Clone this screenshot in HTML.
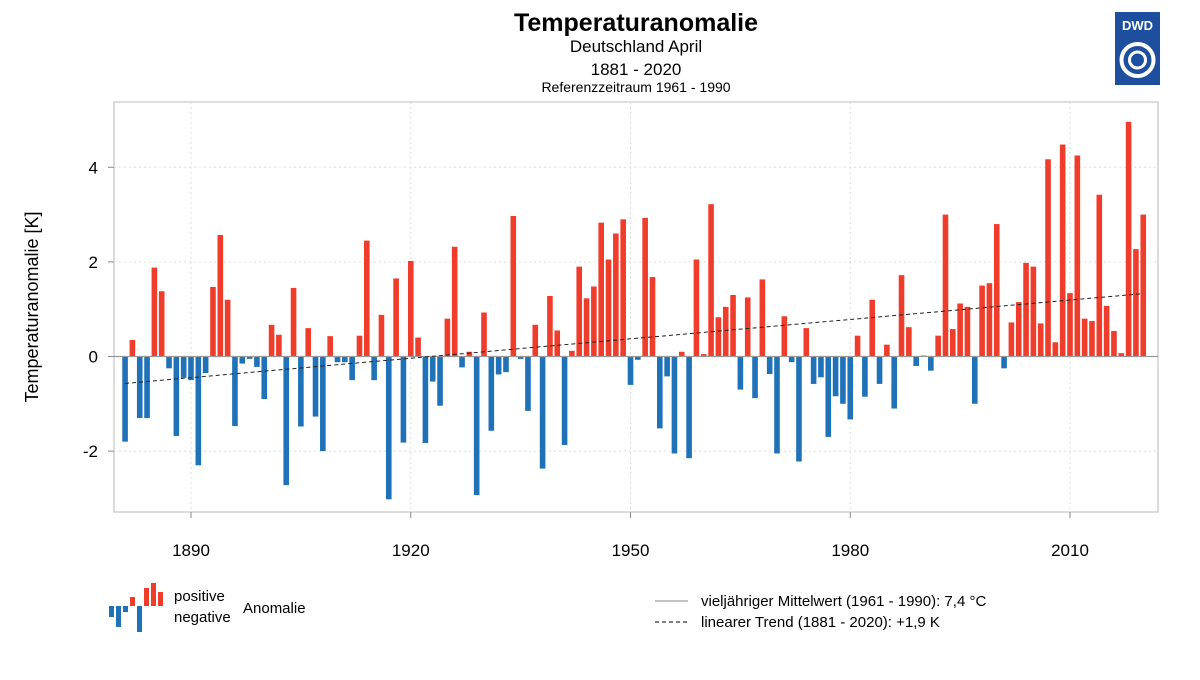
<!DOCTYPE html>
<html><head><meta charset="utf-8"><style>
body{margin:0;background:#fff;font-family:"Liberation Sans",sans-serif}
svg text{font-family:"Liberation Sans",sans-serif}
</style></head><body>
<svg id="c" width="1200" height="675" viewBox="0 0 1200 675">
<text x="636" y="31" text-anchor="middle" font-size="25" font-weight="bold">Temperaturanomalie</text>
<text x="636" y="52" text-anchor="middle" font-size="17">Deutschland April</text>
<text x="636" y="75" text-anchor="middle" font-size="17">1881 - 2020</text>
<text x="636" y="92" text-anchor="middle" font-size="14">Referenzzeitraum 1961 - 1990</text>
<g>
<rect x="1115" y="12" width="45" height="73" fill="#1d4f9e"/>
<text x="1137.5" y="30" text-anchor="middle" font-size="13" font-weight="bold" fill="#fff">DWD</text>
<circle cx="1137.5" cy="60" r="16" fill="none" stroke="#fff" stroke-width="4"/>
<circle cx="1137.5" cy="60" r="8" fill="none" stroke="#fff" stroke-width="3"/>
</g>
<rect x="114" y="102" width="1044" height="410" fill="none" stroke="#bbb"/>
<g id="grid"></g><g id="bars"></g><g id="axes"></g>
<text transform="translate(38,307) rotate(-90)" text-anchor="middle" font-size="18">Temperaturanomalie [K]</text>
<g>
<rect x="109" y="606" width="5" height="11" fill="#1f72b8"/><rect x="116" y="606" width="5" height="21" fill="#1f72b8"/><rect x="123" y="606" width="5" height="6" fill="#1f72b8"/><rect x="130" y="597" width="5" height="9" fill="#f03c2b"/><rect x="137" y="606" width="5" height="26" fill="#1f72b8"/><rect x="144" y="588" width="5" height="18" fill="#f03c2b"/><rect x="151" y="583" width="5" height="23" fill="#f03c2b"/><rect x="158" y="592" width="5" height="14" fill="#f03c2b"/>
<text x="174" y="601" font-size="15">positive</text><text x="174" y="622" font-size="15">negative</text><text x="243" y="613" font-size="15">Anomalie</text>
</g>
<g>
<line x1="655" y1="601" x2="688" y2="601" stroke="#888" stroke-width="1"/>
<text x="701" y="606" font-size="15">vieljähriger Mittelwert (1961 - 1990): 7,4 °C</text>
<line x1="655" y1="622" x2="688" y2="622" stroke="#000" stroke-dasharray="4,3"/>
<text x="701" y="627" font-size="15">linearer Trend (1881 - 2020): +1,9 K</text>
</g>
</svg>
<script>
const startYear=1881;
const values=[-1.8,0.35,-1.3,-1.3,1.88,1.38,-0.25,-1.68,-0.45,-0.5,-2.3,-0.35,1.47,2.57,1.2,-1.47,-0.15,-0.05,-0.22,-0.9,
0.67,0.46,-2.72,1.45,-1.48,0.6,-1.27,-2.0,0.43,-0.12,-0.12,-0.5,0.44,2.45,-0.5,0.88,-3.02,1.65,-1.82,2.02,
0.4,-1.83,-0.53,-1.04,0.8,2.32,-0.23,0.1,-2.93,0.93,-1.57,-0.38,-0.33,2.97,-0.05,-1.15,0.67,-2.37,1.28,0.55,
-1.87,0.12,1.9,1.23,1.48,2.83,2.05,2.6,2.9,-0.6,-0.07,2.93,1.68,-1.52,-0.42,-2.05,0.1,-2.15,2.05,0.05,
3.22,0.83,1.05,1.3,-0.7,1.25,-0.88,1.63,-0.37,-2.05,0.85,-0.12,-2.22,0.6,-0.58,-0.44,-1.7,-0.84,-1.0,-1.33,
0.44,-0.85,1.2,-0.58,0.25,-1.1,1.72,0.62,-0.2,0.02,-0.3,0.44,3.0,0.58,1.12,1.05,-1.0,1.5,1.55,2.8,
-0.25,0.72,1.15,1.98,1.9,0.7,4.17,0.3,4.48,1.34,4.25,0.8,0.75,3.42,1.07,0.54,0.07,4.96,2.27,3.0];
const xTicks=[1890,1920,1950,1980,2010];
const yTicks=[-2,0,2,4];
const trend=[-0.57,1.33];
const NS='http://www.w3.org/2000/svg';
const X=y=>191+(y-1890)*(879/120);
const Y=v=>356.5-v*47.3;
function mk(t,a,p){const e=document.createElementNS(NS,t);for(const k in a)e.setAttribute(k,a[k]);document.getElementById(p).appendChild(e);return e;}
xTicks.forEach(t=>{
 const g=mk('line',{x1:X(t),x2:X(t),y1:102,y2:512,stroke:'#ddd','stroke-dasharray':'2,3'},'grid');
 
 
 const l=mk('text',{x:X(t),y:556,'text-anchor':'middle','font-size':17},'axes');l.textContent=t;
 
 
 mk('line',{x1:X(t),x2:X(t),y1:512,y2:518,stroke:'#888'},'axes');
});
yTicks.forEach(t=>{
 if(t!==0){const g=mk('line',{x1:114,x2:1158,y1:Y(t),y2:Y(t),stroke:'#ddd','stroke-dasharray':'2,3'},'grid');
 
 }
 const l=mk('text',{x:98,y:Y(t)+6,'text-anchor':'end','font-size':17},'axes');l.textContent=t;
 
 
 mk('line',{x1:108,x2:114,y1:Y(t),y2:Y(t),stroke:'#888'},'axes');
});
values.forEach((v,i)=>{
 const x=X(startYear+i)-2.8;const y0=Y(0),y1=Y(v);
 const r=mk('rect',{x:x,width:5.6,y:Math.min(y0,y1),height:Math.max(0.5,Math.abs(y1-y0)),fill:v>=0?'#f03c2b':'#1f72b8'},'bars');
 
 
});
const z=mk('line',{x1:114,x2:1158,y1:Y(0),y2:Y(0),stroke:'#999','stroke-width':1.2},'axes');


const tl=mk('line',{x1:X(startYear),x2:X(startYear+values.length-1),y1:Y(trend[0]),y2:Y(trend[1]),stroke:'#222','stroke-dasharray':'4,3'},'axes');


</script>
</body></html>
